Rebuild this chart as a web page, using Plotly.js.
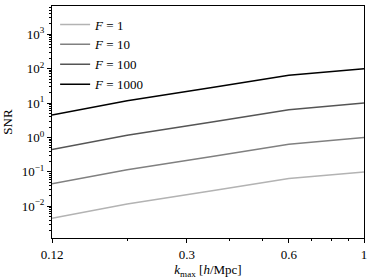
<!DOCTYPE html>
<html>
<head>
<meta charset="utf-8">
<script src="https://cdn.plot.ly/plotly-3.0.1.min.js"></script>
<style>html,body{margin:0;padding:0;background:#fff;}#chart{width:374px;height:280px;}</style>
</head>
<body>
<div id="chart"></div>
<script>
const kmax = [0.12, 0.2, 0.36, 0.6, 1.0];
const snrF1 = [0.0045, 0.0116, 0.0287, 0.0640, 0.100];
const snrF10 = [0.045, 0.116, 0.287, 0.640, 1.00];
const snrF100 = [0.45, 1.16, 2.87, 6.40, 10.0];
const snrF1000 = [4.5, 11.6, 28.7, 64.0, 100];
const seriesNames = ['<i>F</i> = 1', '<i>F</i> = 10', '<i>F</i> = 100', '<i>F</i> = 1000'];
const xTickVals = [0.12, 0.3, 0.6, 1];
const xTickText = ['0.12', '0.3', '0.6', '1'];
const xMinorVals = [0.2, 0.4, 0.5, 0.7, 0.8, 0.9];
const yTickVals = [0.01, 0.1, 1, 10, 100, 1000];
const yTickText = ['10<sup>−2</sup>', '10<sup>−1</sup>', '10<sup>0</sup>', '10<sup>1</sup>', '10<sup>2</sup>', '10<sup>3</sup>'];

const yMinor = [];
for (let e = -3; e <= 3; e++) for (let m = 2; m <= 9; m++) yMinor.push(m * Math.pow(10, e));

const colors = ['#b3b3b3', '#808080', '#555555', '#000000'];
const data = [snrF1, snrF10, snrF100, snrF1000].map((ys, i) => ({
  x: kmax, y: ys, type: 'scatter', mode: 'lines', name: seriesNames[i],
  line: {color: colors[i], width: 1.5}
}));

const fam = 'Liberation Serif, DejaVu Serif, serif';
const font = {family: fam, size: 13, color: '#000'};
const layout = {
  width: 374, height: 280,
  margin: {l: 52, r: 10, t: 6, b: 42},
  paper_bgcolor: '#fff', plot_bgcolor: '#fff',
  font: font,
  showlegend: true,
  legend: {x: 0.01, y: 0.985, xanchor: 'left', yanchor: 'top', bgcolor: 'rgba(255,255,255,0)',
           font: {family: fam, size: 13}, tracegroupgap: 0},
  xaxis: {
    type: 'log', range: [Math.log10(0.12), 0],
    tickmode: 'array', tickvals: xTickVals, ticktext: xTickText,
    ticks: 'outside', ticklen: 4, tickwidth: 1, tickcolor: '#000',
    showgrid: false, zeroline: false, showline: true, linecolor: '#000', linewidth: 1, mirror: true,
    minor: {tickmode: 'array', tickvals: xMinorVals, ticks: 'outside', ticklen: 2, tickcolor: '#000', showgrid: false},
    title: {text: '<i>k</i><sub>max</sub> [<i>h</i>/Mpc]', font: {family: fam, size: 13}, standoff: 4},
    tickfont: {family: fam, size: 13}
  },
  yaxis: {
    type: 'log', range: [-2.92, 3.82],
    tickmode: 'array', tickvals: yTickVals, ticktext: yTickText,
    ticks: 'outside', ticklen: 4, tickwidth: 1, tickcolor: '#000',
    showgrid: false, zeroline: false, showline: true, linecolor: '#000', linewidth: 1, mirror: true,
    minor: {tickmode: 'array', tickvals: yMinor, ticks: 'outside', ticklen: 2, tickcolor: '#000', showgrid: false},
    title: {text: 'SNR', font: {family: fam, size: 13}, standoff: 6},
    tickfont: {family: fam, size: 13}
  }
};
Plotly.newPlot('chart', data, layout, {displayModeBar: false, staticPlot: true});
</script>
</body>
</html>
